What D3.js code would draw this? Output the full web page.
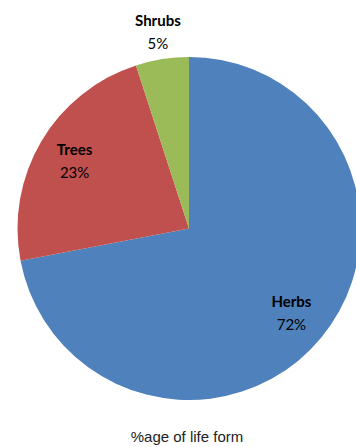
<!DOCTYPE html>
<html lang="en">
<head>
  <meta charset="UTF-8">
  <title>%age of life form</title>
  <script src="https://cdn.jsdelivr.net/npm/d3@7"></script>
  <style>
    html, body {
      margin: 0;
      padding: 0;
      background: #fff;
    }
    svg { display: block; }
  </style>
</head>
<body>
  <div id="chart"></div>
  <script>
    const categories = ['Herbs', 'Trees', 'Shrubs'];
    const values = [72, 23, 5];
    const colors = ['#4f81bd', '#c0504d', '#9bbb59'];
    const title = '%age of life form';

    const width = 356, height = 447;
    const cx = 189, cy = 228.5, r = 171.5;

    const svg = d3.select('#chart').append('svg')
      .attr('width', width)
      .attr('height', height);

    const data = categories.map((c, i) => ({name: c, value: values[i], color: colors[i]}));
    const total = d3.sum(values);

    const pie = d3.pie().value(d => d.value).sort(null);
    const arc = d3.arc().innerRadius(0).outerRadius(r);

    const g = svg.append('g').attr('transform', `translate(${cx},${cy})`);
    const arcs = pie(data);

    g.selectAll('path')
      .data(arcs)
      .join('path')
      .attr('d', arc)
      .attr('fill', d => d.data.color);

    // labels: big slices inside, small ones pushed outside the rim
    const labelPos = d => {
      const share = d.data.value / total;
      const lr = share < 0.1 ? r * 1.16 : r * 0.775;
      const a = (d.startAngle + d.endAngle) / 2;
      return [Math.sin(a) * lr, -Math.cos(a) * lr];
    };

    const labels = g.selectAll('text.lbl')
      .data(arcs)
      .join('text')
      .attr('class', 'lbl')
      .attr('text-anchor', 'middle')
      .attr('font-family', 'Lato, "Open Sans", sans-serif')
      .attr('font-size', 15)
      .attr('fill', '#000')
      .attr('transform', d => `translate(${labelPos(d)})`);

    labels.append('tspan')
      .attr('x', 0)
      .attr('y', -6)
      .attr('font-weight', 'bold')
      .text(d => d.data.name);

    labels.append('tspan')
      .attr('x', 0)
      .attr('y', 17)
      .text(d => Math.round(d.data.value / total * 100) + '%');

    svg.append('text')
      .attr('x', 187)
      .attr('y', 442)
      .attr('text-anchor', 'middle')
      .attr('font-family', '"Liberation Sans", Arial, sans-serif')
      .attr('font-size', 15)
      .attr('fill', '#222')
      .text(title);
  </script>
</body>
</html>
